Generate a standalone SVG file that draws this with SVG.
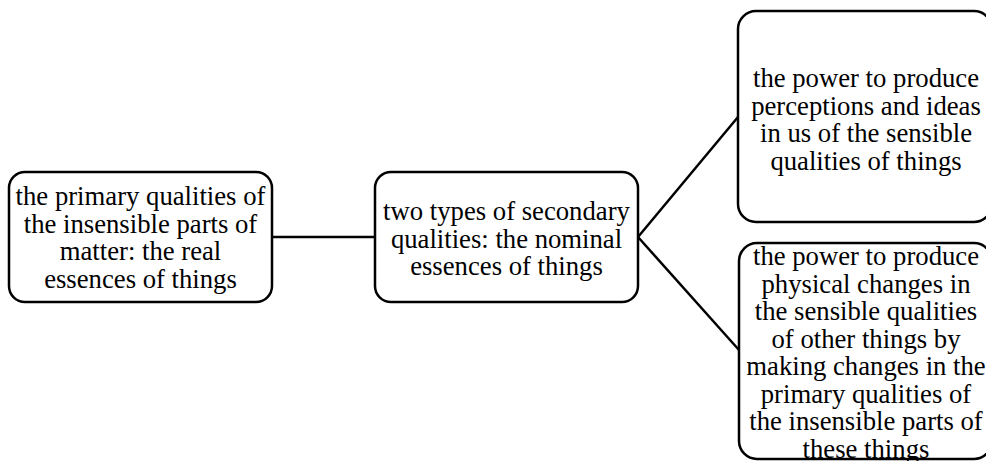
<svg xmlns="http://www.w3.org/2000/svg" width="986" height="461" viewBox="0 0 986 461">
  <style>
    .box { fill: #ffffff; stroke: #000000; stroke-width: 2.5; }
    .edge { fill: none; stroke: #000000; stroke-width: 2.5; }
    .lbl { font-family: "Liberation Serif", "Times New Roman", serif; font-size: 26.7px; fill: #000000; text-anchor: middle; }
  </style>
  <rect width="986" height="461" fill="#ffffff"/>
  <g id="connectors">
    <line class="edge" x1="272" y1="237" x2="375" y2="237"/>
    <line class="edge" x1="638" y1="237" x2="738" y2="117"/>
    <line class="edge" x1="638" y1="237" x2="739" y2="350"/>
  </g>
  <g id="real-essences">
    <rect class="box" x="9" y="172" width="263" height="130" rx="16"/>
    <text class="lbl" x="140.5" y="205">the primary qualities of</text>
    <text class="lbl" x="140.5" y="232.5">the insensible parts of</text>
    <text class="lbl" x="140.5" y="260">matter: the real</text>
    <text class="lbl" x="140.5" y="287.5">essences of things</text>
  </g>
  <g id="nominal-essences">
    <rect class="box" x="375" y="172" width="263" height="130" rx="16"/>
    <text class="lbl" x="506.5" y="220">two types of secondary</text>
    <text class="lbl" x="506.5" y="247.5">qualities: the nominal</text>
    <text class="lbl" x="506.5" y="275">essences of things</text>
  </g>
  <g id="perception-power">
    <rect class="box" x="738" y="11" width="254" height="211" rx="18"/>
    <text class="lbl" x="866" y="87">the power to produce</text>
    <text class="lbl" x="866" y="114.5">perceptions and ideas</text>
    <text class="lbl" x="866" y="142">in us of the sensible</text>
    <text class="lbl" x="866" y="169.5">qualities of things</text>
  </g>
  <g id="physical-power">
    <rect class="box" x="739" y="243" width="253" height="216" rx="18"/>
    <text class="lbl" x="866" y="265">the power to produce</text>
    <text class="lbl" x="866" y="292.5">physical changes in</text>
    <text class="lbl" x="866" y="320">the sensible qualities</text>
    <text class="lbl" x="866" y="347.5">of other things by</text>
    <text class="lbl" x="866" y="375">making changes in the</text>
    <text class="lbl" x="866" y="402.5">primary qualities of</text>
    <text class="lbl" x="866" y="430">the insensible parts of</text>
    <text class="lbl" x="866" y="457.5">these things</text>
  </g>
</svg>
